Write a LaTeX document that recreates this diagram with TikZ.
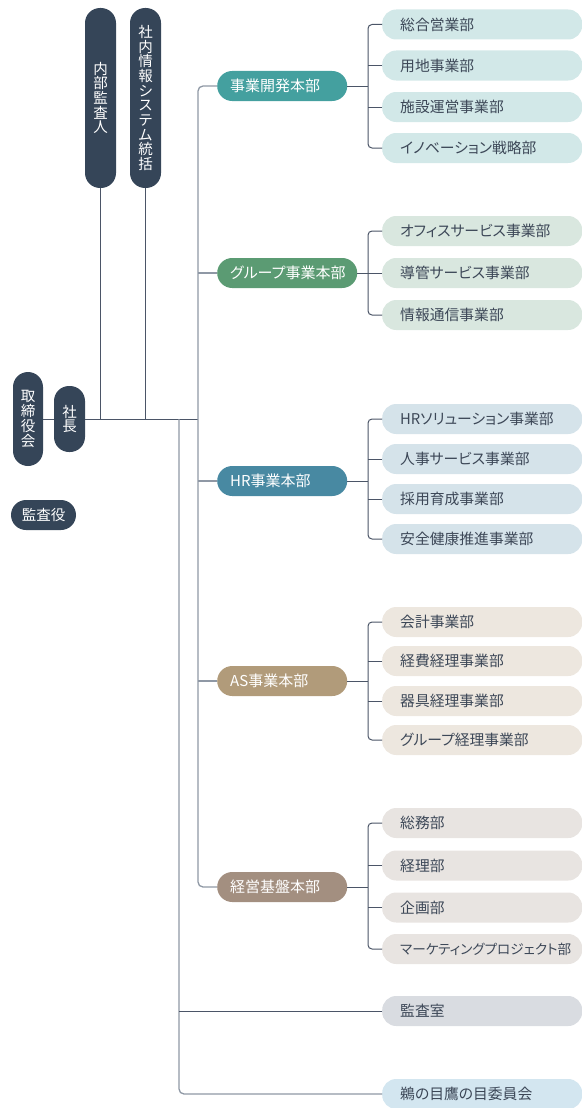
\documentclass[tikz,border=0pt]{standalone}
\usepackage{fontspec}
\setmainfont{Noto Sans CJK JP}[RawFeature=+palt]
\definecolor{navy}{HTML}{354558}
\definecolor{cA}{HTML}{44A09F}
\definecolor{cB}{HTML}{5B9B73}
\definecolor{cC}{HTML}{4889A2}
\definecolor{cD}{HTML}{B19B7A}
\definecolor{cE}{HTML}{A38F80}
\definecolor{lA}{HTML}{D2E8E8}
\definecolor{lB}{HTML}{D9E7DF}
\definecolor{lC}{HTML}{D5E3EA}
\definecolor{lD}{HTML}{EDE7DF}
\definecolor{lE}{HTML}{E8E4E1}
\definecolor{lF}{HTML}{D9DCE1}
\definecolor{lG}{HTML}{D3E6F0}
\definecolor{deptt}{HTML}{3C4757}
\definecolor{leadc}{HTML}{4B5567}
\definecolor{trunkc}{HTML}{8F98A5}
\begin{document}
\begin{tikzpicture}[x=1pt,y=-1pt,
 lead/.style={draw=leadc, line width=1pt},
 trunk/.style={draw=trunkc, line width=1.3pt},
 base/.style={inner sep=0pt, text height=13pt, text depth=1.8pt},
 vert/.style={inner sep=0pt, fill=navy, text=white, minimum width=31pt, rounded corners=15pt, align=center, font=\fontsize{14.5}{14.7}\selectfont},
 exec/.style={base, fill=navy, text=white, minimum height=30pt, rounded corners=15pt, font=\fontsize{14.5}{14.6}\selectfont},
 div/.style={base, anchor=west, text=white, minimum height=30pt, rounded corners=15pt, inner xsep=13pt, text width=104pt, align=left, font=\fontsize{15}{15}\selectfont},
 dept/.style={base, anchor=west, text=deptt, minimum height=30pt, rounded corners=14pt, inner xsep=18pt, text width=164pt, align=left, font=\fontsize{14.8}{14.8}\selectfont},
]
\useasboundingbox (0,0) rectangle (581,1108);

% executive nodes
\node[vert, minimum height=180pt] (naibu) at (100.5,98) {内\\部\\監\\査\\人};
\node[vert, minimum height=180pt] (shanai) at (145.5,98) {社\\内\\情\\報\\シ\\ス\\テ\\ム\\統\\括};
\node[vert, minimum width=30pt, minimum height=94pt] (tori) at (28,419) {取\\締\\役\\会};
\node[vert, minimum height=66pt] (shacho) at (69.5,419) {社\\長};
\node[exec, minimum width=65pt] (kansayaku) at (43.5,515) {監査役};

% divisions
\node[div, fill=cA] (kaihatsu) at (217,86) {事業開発本部};
\node[div, fill=cB, text width=114pt] (group) at (217,273) {グループ事業本部};
\node[div, fill=cC] (hr) at (217,481) {HR事業本部};
\node[div, fill=cD] (as) at (217,681) {AS事業本部};
\node[div, fill=cE] (keiei) at (217,887) {経営基盤本部};

% departments
\node[dept, fill=lA] (k1) at (382,24.5) {総合営業部};
\node[dept, fill=lA] (k2) at (382,65.5) {用地事業部};
\node[dept, fill=lA] (k3) at (382,107) {施設運営事業部};
\node[dept, fill=lA] (k4) at (382,148) {イノベーション戦略部};

\node[dept, fill=lB] (g1) at (382,231) {オフィスサービス事業部};
\node[dept, fill=lB] (g2) at (382,273) {導管サービス事業部};
\node[dept, fill=lB] (g3) at (382,315) {情報通信事業部};

\node[dept, fill=lC] (h1) at (382,419) {HRソリューション事業部};
\node[dept, fill=lC] (h2) at (382,459) {人事サービス事業部};
\node[dept, fill=lC] (h3) at (382,499) {採用育成事業部};
\node[dept, fill=lC] (h4) at (382,539) {安全健康推進事業部};

\node[dept, fill=lD] (a1) at (382,622) {会計事業部};
\node[dept, fill=lD] (a2) at (382,661) {経費経理事業部};
\node[dept, fill=lD] (a3) at (382,701) {器具経理事業部};
\node[dept, fill=lD] (a4) at (382,740) {グループ経理事業部};

\node[dept, fill=lE] (e1) at (382,823) {総務部};
\node[dept, fill=lE] (e2) at (382,865.5) {経理部};
\node[dept, fill=lE] (e3) at (382,907.5) {企画部};
\node[dept, fill=lE, font=\fontsize{13.6}{13.6}\selectfont] (e4) at (382,949) {マーケティングプロジェクト部};

\node[dept, fill=lF] (kansashitsu) at (382,1011) {監査室};
\node[dept, fill=lG] (unome) at (382,1094) {鵜の目鷹の目委員会};

% coordinates
\coordinate (tA) at (198,86);
\coordinate (tB) at (198,887);
\coordinate (tC) at (179,419);
\coordinate (tD) at (179,1094);
\coordinate (bx) at (368,0);

% executive connectors
\draw[lead] (tori.east) -- (shacho.west);
\draw[lead] (shacho.east) -- (shacho.east -| tA);
\draw[lead] (naibu.south) -- (naibu.south |- shacho.east);
\draw[lead] (shanai.south) -- (shanai.south |- shacho.east);

% trunks
\draw[trunk, rounded corners=5pt] (kaihatsu.west) -- (tA) -- (tB) -- (keiei.west);
\draw[trunk] (group.west) -- (group.west -| tA);
\draw[trunk] (hr.west) -- (hr.west -| tA);
\draw[trunk] (as.west) -- (as.west -| tA);
\draw[trunk, rounded corners=5pt] (tC) -- (tD) -- (unome.west);
\draw[lead] (kansashitsu.west) -- (kansashitsu.west -| tC);

% brackets
\draw[lead, rounded corners=4pt] (k1.west) -- (k1.west -| bx) -- (k4.west -| bx) -- (k4.west);
\draw[lead] (kaihatsu.east) -- (kaihatsu.east -| bx);
\draw[lead] (k2.west) -- (k2.west -| bx);
\draw[lead] (k3.west) -- (k3.west -| bx);

\draw[lead, rounded corners=4pt] (g1.west) -- (g1.west -| bx) -- (g3.west -| bx) -- (g3.west);
\draw[lead] (group.east) -- (g2.west);

\draw[lead, rounded corners=4pt] (h1.west) -- (h1.west -| bx) -- (h4.west -| bx) -- (h4.west);
\draw[lead] (hr.east) -- (hr.east -| bx);
\draw[lead] (h2.west) -- (h2.west -| bx);
\draw[lead] (h3.west) -- (h3.west -| bx);

\draw[lead, rounded corners=4pt] (a1.west) -- (a1.west -| bx) -- (a4.west -| bx) -- (a4.west);
\draw[lead] (as.east) -- (as.east -| bx);
\draw[lead] (a2.west) -- (a2.west -| bx);
\draw[lead] (a3.west) -- (a3.west -| bx);

\draw[lead, rounded corners=4pt] (e1.west) -- (e1.west -| bx) -- (e4.west -| bx) -- (e4.west);
\draw[lead] (keiei.east) -- (keiei.east -| bx);
\draw[lead] (e2.west) -- (e2.west -| bx);
\draw[lead] (e3.west) -- (e3.west -| bx);
\end{tikzpicture}
\end{document}
